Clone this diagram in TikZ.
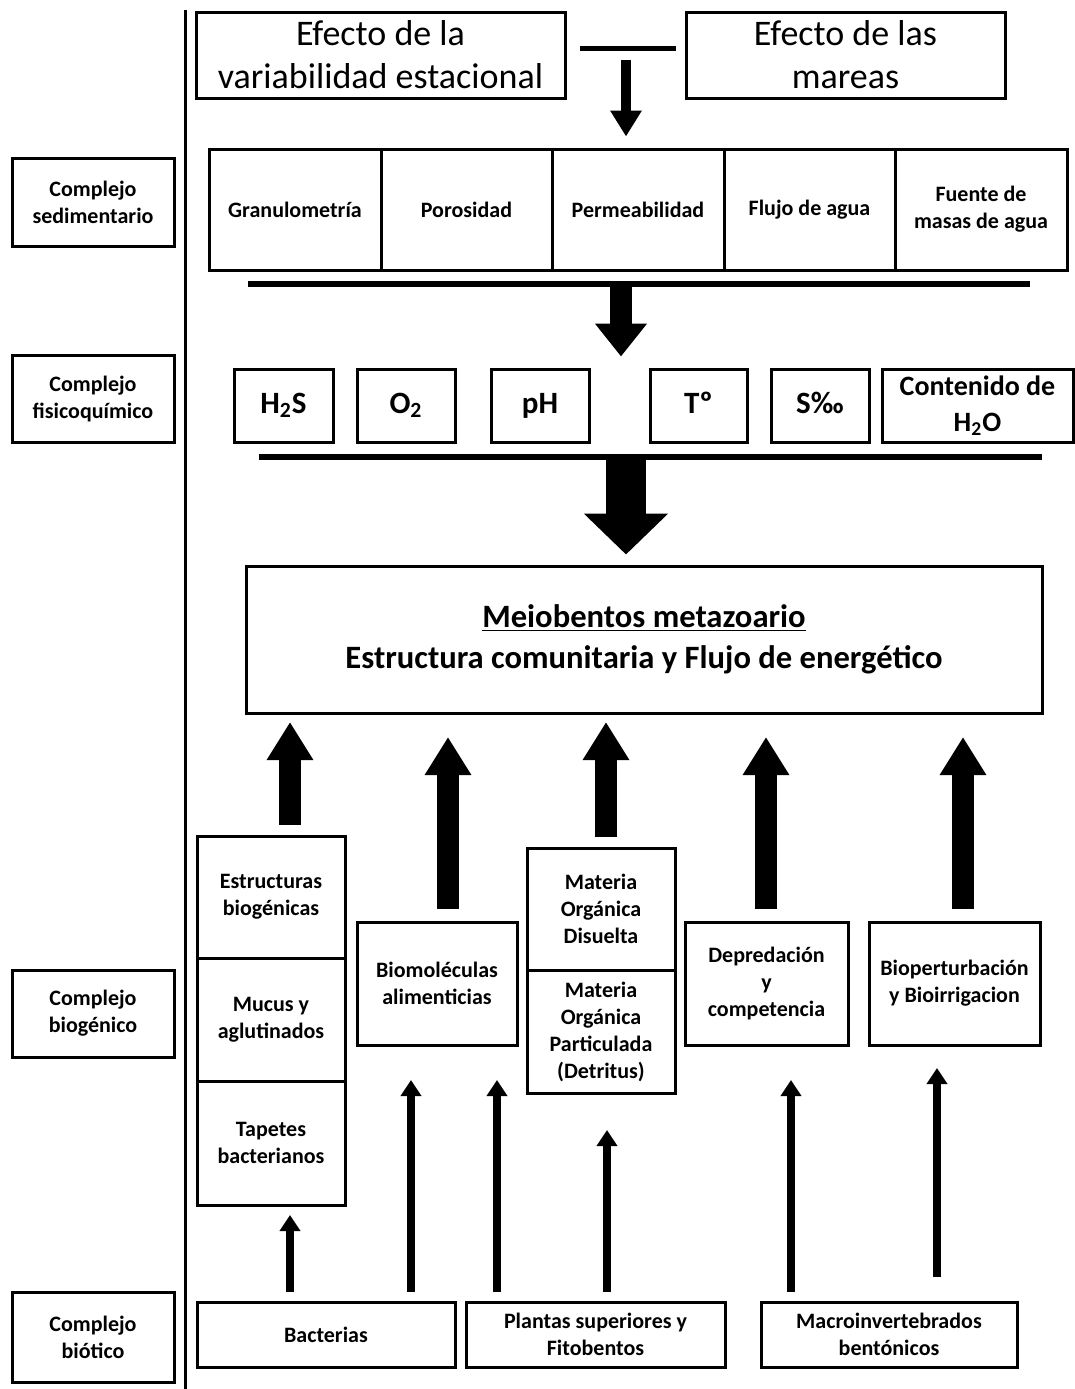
\documentclass[tikz,border=0pt]{standalone}
\usepackage{fontspec}
\setmainfont{Carlito}
\usepackage{tikz}
\usetikzlibrary{arrows.meta,calc}

\begin{document}
\begin{tikzpicture}[
    x=0.5pt, y=-0.5pt,
    box/.style={draw=black, line width=1.5pt, align=center, inner sep=2pt, font=\bfseries\fontsize{11}{13.5}\selectfont},
    efbox/.style={box, font=\fontsize{18}{21.5}\selectfont},
    chembox/.style={box, minimum height=36.5pt, font=\bfseries\fontsize{15.5}{18}\selectfont},
    chemone/.style={chembox, text height=11pt, text depth=3.5pt},
    bar/.style={line width=3pt},
    thinarrow/.style={-{Triangle[width=10pt,length=8pt]}, line width=4pt},
    medarrow/.style={-{Triangle[width=15pt,length=13pt]}, line width=5pt},
    blockarrow/.style={-{Triangle[width=22pt,length=19pt]}, line width=11pt},
    midarrow/.style={-{Triangle[width=25pt,length=16.5pt]}, line width=11pt},
    hugearrow/.style={-{Triangle[width=41pt,length=20.5pt]}, line width=20pt}
]
\useasboundingbox (0,0) rectangle (1075,1389);
% LEFT COLUMN: complejos
\node[box, minimum width=81pt, minimum height=44pt] (csed) at (93,202) {Complejo\\sedimentario};
\node[box, minimum width=81pt, minimum height=43.5pt] (cfis) at (93,398.5) {Complejo\\fisicoquímico};
\node[box, minimum width=81pt, minimum height=43.5pt] (cbiog) at (93,1013.5) {Complejo\\biogénico};
\node[box, minimum width=81pt, minimum height=45pt] (cbiot) at (93,1337) {Complejo\\biótico};
\draw[line width=1.5pt] (185,10) -- (185,1389);
% TOP: efectos
\node[efbox, minimum width=184.5pt, minimum height=43pt] (efest) at (380.5,55) {Efecto de la\\variabilidad estacional};
\node[efbox, minimum width=159.5pt, minimum height=43pt] (efmar) at (845.5,55) {Efecto de las\\mareas};
\coordinate (teeL) at (580,48);
\coordinate (teeR) at (676,48);
\coordinate (tee) at (626,60);
\draw[line width=2.5pt] (teeL) -- (teeR);
% SEDIMENT ROW
\node[box, minimum width=86pt, minimum height=60.5pt] (gran) at (295,209.5) {Granulometría};
\node[box, minimum width=85.5pt, minimum height=60.5pt] (poro) at (466.5,209.5) {Porosidad};
\node[box, minimum width=86pt, minimum height=60.5pt] (perm) at (638,209.5) {Permeabilidad};
\node[box, minimum width=85.5pt, minimum height=60.5pt] (flujo) at (809.5,209.5) {Flujo de agua};
\node[box, minimum width=86pt, minimum height=60.5pt] (fuente) at (981,209.5) {Fuente de\\masas de agua};
\draw[medarrow, shorten >=5.5pt] (tee) -- (tee |- perm.north);
\coordinate (barAl) at (248,284);
\coordinate (barAr) at (1030,284);
\coordinate (barA) at (621,287);
\draw[bar] (barAl) -- (barAr);
% PHYSICO-CHEMICAL ROW
\node[chemone, minimum width=49.5pt] (hs) at (283.5,405.5) {H\textsubscript{2}S};
\node[chemone, minimum width=49pt] (ox) at (406,405.5) {O\textsubscript{2}};
\node[chemone, minimum width=49pt] (ph) at (540,405.5) {pH};
\node[chemone, minimum width=48.5pt] (temp) at (698.5,405.5) {Tº};
\node[chemone, minimum width=49pt] (sal) at (820,405.5) {S‰};
\node[chembox, minimum width=95.5pt, font=\bfseries\fontsize{14}{18}\selectfont] (agua) at (977.5,405.5) {Contenido de\\H\textsubscript{2}O};
\draw[midarrow, shorten >=5.5pt] (barA) -- (barA |- ph.north);
\coordinate (barBl) at (259,457);
\coordinate (barBr) at (1042,457);
\coordinate (barB) at (626,460);
\draw[bar] (barBl) -- (barBr);
% MEIOBENTOS
\node[box, minimum width=398pt, minimum height=73.5pt, font=\bfseries\fontsize{16.3}{20.5}\selectfont] (meio) at (644,639.5) {\underline{Meiobentos metazoario}\\Estructura comunitaria y Flujo de energético};
\draw[hugearrow, shorten >=5pt] (barB) -- (barB |- meio.north);
% BIOGENIC ROW
\node[box, minimum width=74pt, minimum height=61pt] (estr) at (271,897) {Estructuras\\biogénicas};
\node[box, minimum width=74pt, minimum height=61.5pt] (mucus) at (271,1019.5) {Mucus y\\aglutinados};
\node[box, minimum width=74pt, minimum height=62pt] (tapet) at (271,1143) {Tapetes\\bacterianos};
\node[box, minimum width=80pt, minimum height=61.5pt] (biomol) at (437,983.5) {Biomoléculas\\alimenticias};
\node[box, minimum width=74pt, minimum height=61pt] (mod) at (601,909) {Materia\\Orgánica\\Disuelta};
\node[box, minimum width=74pt, minimum height=61.5pt] (mop) at (601,1031.5) {Materia\\Orgánica\\Particulada\\(Detritus)};
\node[box, minimum width=81.5pt, minimum height=61.5pt] (depr) at (766.5,983.5) {Depredación\\y\\competencia};
\node[box, minimum width=85.5pt, minimum height=61.5pt] (biopert) at (954.5,983.5) {Bioperturbación\\y Bioirrigacion};
\coordinate (u1) at (290,722);
\coordinate (u2) at (448,737);
\coordinate (u3) at (606,722);
\coordinate (u4) at (766,737);
\coordinate (u5) at (963,737);
\draw[blockarrow, shorten <=5pt] (estr.north -| u1) -- (u1);
\draw[blockarrow, shorten <=6pt] (biomol.north -| u2) -- (u2);
\draw[blockarrow, shorten <=5pt] (mod.north -| u3) -- (u3);
\draw[blockarrow, shorten <=6pt] (depr.north -| u4) -- (u4);
\draw[blockarrow, shorten <=6pt] (biopert.north -| u5) -- (u5);
% BIOTIC ROW
\node[box, minimum width=129pt, minimum height=32.5pt] (bact) at (326,1334.5) {Bacterias};
\node[box, minimum width=129.5pt, minimum height=32.5pt] (plant) at (595.5,1334.5) {Plantas superiores y\\Fitobentos};
\node[box, minimum width=128pt, minimum height=32.5pt] (macro) at (889,1334.5) {Macroinvertebrados\\bentónicos};
\coordinate (d1) at (290,1215);
\coordinate (d2) at (411,1080);
\coordinate (d3) at (497,1080);
\coordinate (d4) at (607,1130);
\coordinate (d5) at (791,1080);
\coordinate (d6) at (937,1068);
\draw[thinarrow, shorten <=4.5pt] (bact.north -| d1) -- (d1);
\draw[thinarrow, shorten <=4.5pt] (bact.north -| d2) -- (d2);
\draw[thinarrow, shorten <=4.5pt] (plant.north -| d3) -- (d3);
\draw[thinarrow, shorten <=4.5pt] (plant.north -| d4) -- (d4);
\draw[thinarrow, shorten <=4.5pt] (macro.north -| d5) -- (d5);
\draw[thinarrow, shorten <=12pt] (macro.north -| d6) -- (d6);
\end{tikzpicture}
\end{document}
